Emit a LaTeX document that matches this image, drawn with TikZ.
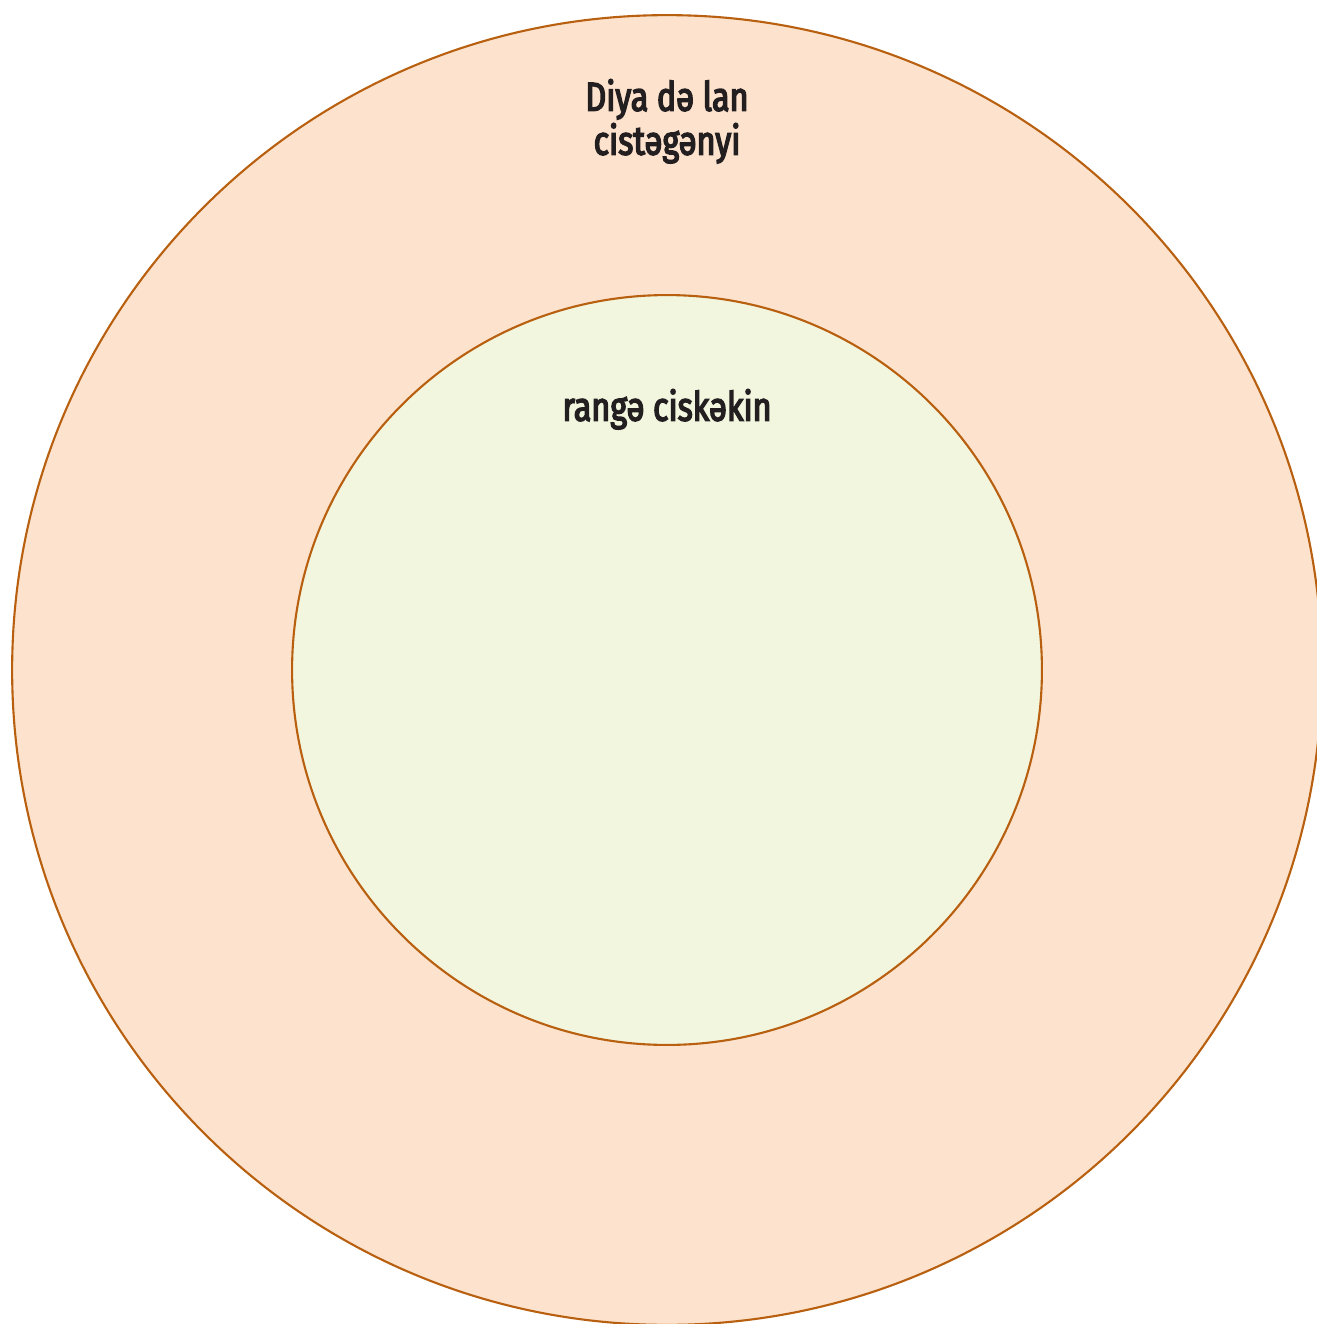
\documentclass[tikz,border=0pt]{standalone}
\usepackage{fontspec}
\setmainfont{Fira Sans}
\newfontfamily\labelfont[FakeStretch=0.8,FakeBold=3.5]{Fira Sans}
\usepackage{xcolor}
\usetikzlibrary{positioning}
\definecolor{ringfill}{HTML}{FDE3CE}
\definecolor{corefill}{HTML}{F2F6DF}
\definecolor{rimline}{HTML}{B8600F}
\definecolor{inktext}{HTML}{231F20}

\begin{document}
\begin{tikzpicture}[x=0.02cm,y=-0.02cm,every node/.style={font=\labelfont\fontsize{23}{24}\selectfont,text=inktext}]
\useasboundingbox (0,0) rectangle (1317,1324);
\clip (0,0) rectangle (1317,1324);
\node[draw=rimline,line width=1.2pt,fill=ringfill,circle,minimum size=26.2cm,inner sep=0pt] (outer) at (667,670) {};
\node[draw=rimline,line width=1.2pt,fill=corefill,circle,minimum size=15cm,inner sep=0pt] (inner) at (667,670) {};
\node[align=center,below=1.18cm of outer.north] (outerlabel) {Diya də lan\\[1pt]cistəgənyi};
\node[below=1.78cm of inner.north] (innerlabel) {rangə ciskəkin};
\end{tikzpicture}
\end{document}
